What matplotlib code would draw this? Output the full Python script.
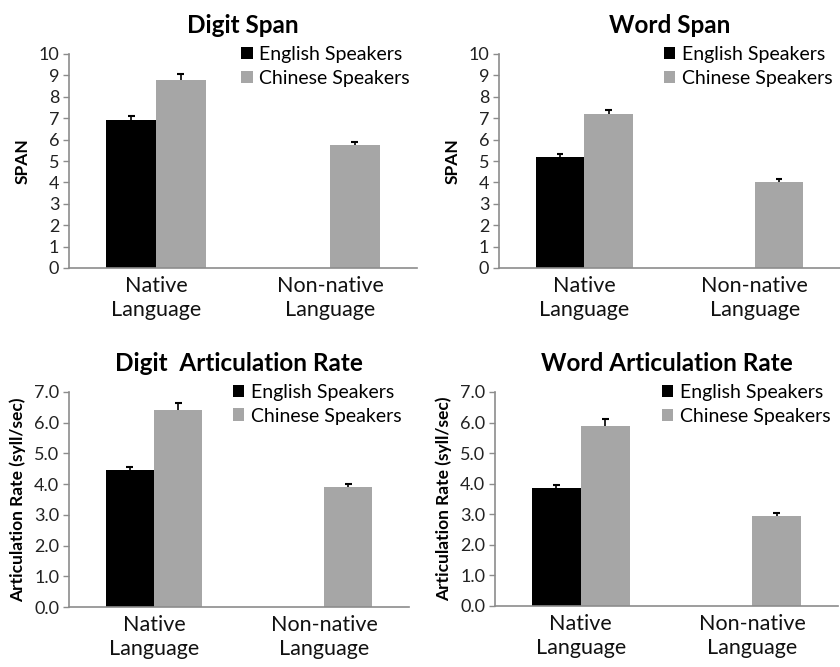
import numpy as np
import matplotlib
matplotlib.use("Agg")
import matplotlib.pyplot as plt

plt.rcParams['font.family'] = ['Lato', 'DejaVu Sans']

# ── data ───────────────────────────────────────
categories = ["Native\nLanguage", "Non-native\nLanguage"]
series_names = ["English Speakers", "Chinese Speakers"]

digit_span_en = [6.9, np.nan]
digit_span_cn = [8.8, 5.75]
digit_span_en_err = [0.2, 0.0]
digit_span_cn_err = [0.25, 0.15]

word_span_en = [5.2, np.nan]
word_span_cn = [7.2, 4.0]
word_span_en_err = [0.12, 0.0]
word_span_cn_err = [0.2, 0.14]

digit_rate_en = [4.45, np.nan]
digit_rate_cn = [6.4, 3.9]
digit_rate_en_err = [0.1, 0.0]
digit_rate_cn_err = [0.25, 0.1]

word_rate_en = [3.85, np.nan]
word_rate_cn = [5.9, 2.95]
word_rate_en_err = [0.1, 0.0]
word_rate_cn_err = [0.22, 0.1]

COL_EN = "#000000"
COL_CN = "#A6A6A6"
AXIS_COL = "#8C8C8C"

fig = plt.figure(figsize=(8.4, 6.67), dpi=100)

# axes positions in pixels: (left, top, right, bottom)
W, H = 840, 667
boxes = [(69, 54, 417, 268), (499, 54, 840, 268),
         (69, 392, 409, 607), (495, 392, 838, 606)]


def make_axes(box):
    l, t, r, b = box
    return fig.add_axes([l / W, (H - b) / H, (r - l) / W, (b - t) / H])


def up_err(ax, xs, vals, errs):
    # Excel-style plus-only error bars with a cap on top
    for xi, v, e in zip(xs, vals, errs):
        if np.isnan(v) or e <= 0:
            continue
        ax.vlines(xi, v, v + e, color="black", lw=1.2, zorder=3)
        ax.hlines(v + e, xi - 0.02, xi + 0.02, color="black", lw=1.5, zorder=3)


def panel(ax, title, ylabel, en, cn, en_err, cn_err, ymax, yticks, fmt):
    x = np.arange(len(categories))
    w = 0.285
    en_plot = np.nan_to_num(en)
    ax.bar(x - w / 2, en_plot, w, color=COL_EN, label=series_names[0], zorder=2)
    ax.bar(x + w / 2, cn, w, color=COL_CN, label=series_names[1], zorder=2)
    up_err(ax, x - w / 2, en, en_err)
    up_err(ax, x + w / 2, cn, cn_err)

    ax.set_xlim(-0.5, 1.5)
    ax.set_ylim(0, ymax)
    ax.set_yticks(yticks)
    ax.set_yticklabels([fmt.format(t) for t in yticks], fontsize=13,
                       color="#222222")
    ax.set_xticks(x)
    ax.set_xticklabels(categories, fontsize=15.5, color="#111111",
                       linespacing=1.25)
    ax.tick_params(axis="x", length=0, pad=6)
    ax.tick_params(axis="y", length=4, color=AXIS_COL, width=1, pad=3)
    for s in ["top", "right"]:
        ax.spines[s].set_visible(False)
    for s in ["left", "bottom"]:
        ax.spines[s].set_color(AXIS_COL)
        ax.spines[s].set_linewidth(1.2)
    ax.set_title(title, fontsize=17.5, fontweight="bold", pad=15)
    ax.set_ylabel(ylabel, fontsize=12.5, fontweight="bold", labelpad=6)
    ax.legend(loc="upper right", bbox_to_anchor=(1.03, 1.12), frameon=False,
              fontsize=14, handlelength=0.6, handleheight=0.6,
              handletextpad=0.35, labelspacing=0.35)


span_ticks = list(range(0, 11))
rate_ticks = [0, 1, 2, 3, 4, 5, 6, 7]

ax1 = make_axes(boxes[0])
panel(ax1, "Digit Span", "SPAN", digit_span_en, digit_span_cn,
      digit_span_en_err, digit_span_cn_err, 10, span_ticks, "{:d}")
ax2 = make_axes(boxes[1])
panel(ax2, "Word Span", "SPAN", word_span_en, word_span_cn,
      word_span_en_err, word_span_cn_err, 10, span_ticks, "{:d}")
ax3 = make_axes(boxes[2])
panel(ax3, "Digit  Articulation Rate", "Articulation Rate (syll/sec)",
      digit_rate_en, digit_rate_cn, digit_rate_en_err, digit_rate_cn_err,
      7, rate_ticks, "{:.1f}")
ax4 = make_axes(boxes[3])
panel(ax4, "Word Articulation Rate", "Articulation Rate (syll/sec)",
      word_rate_en, word_rate_cn, word_rate_en_err, word_rate_cn_err,
      7, rate_ticks, "{:.1f}")

fig.savefig("out.png", dpi=100)
